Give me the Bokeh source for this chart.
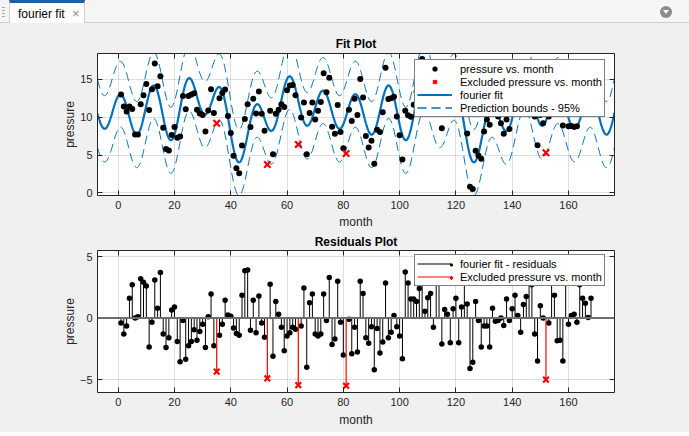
import numpy as np
from bokeh.plotting import figure
from bokeh.models import (Range1d, LinearAxis, FixedTicker, Legend, LegendItem, Span, Div)
from bokeh.layouts import column
from bokeh.embed import file_html
from bokeh.resources import INLINE

# ---------------- data ----------------
months = list(range(1, 169))
pressure = [
    13.0, 11.4, 10.75, 11.4, 11.1, 7.7, 7.7, 11.7, 12.9, 14.4,
    10.95, 13.7, 17.1, 14.1, 15.4, 8.6, 5.8, 5.6, 7.65, 8.7,
    7.3, 7.45, 12.8, 11.05, 12.8, 13.0, 13.15, 11.0, 10.5, 10.3,
    8.1, 10.9, 13.7, 10.55, 9.2, 12.5, 13.2, 13.65, 10.15, 7.9,
    4.9, 3.25, 2.6, 6.25, 9.75, 11.7, 8.7, 12.45, 10.5, 13.4,
    10.45, 8.2, 3.75, 10.85, 5.1, 10.45, 11.0, 11.7, 11.35, 13.55,
    14.2, 14.25, 12.9, 6.4, 9.95, 11.95, 5.1, 10.55, 11.95, 9.7,
    10.85, 12.0, 15.8, 13.3, 15.2, 8.75, 7.8, 11.6, 8.05, 5.9,
    5.2, 11.0, 9.5, 12.45, 10.3, 15.05, 12.6, 7.5, 6.0, 6.9,
    3.85, 8.35, 8.05, 10.65, 16.55, 12.4, 12.5, 12.7, 10.1, 7.6,
    4.4, 10.85, 10.25, 10.05, 11.65, 13.35, 16.1, 17.7, 15.55, 16.15,
    15.45, 11.45, 14.5, 13.65, 8.55, 12.0, 12.6, 11.15, 14.45, 15.4,
    10.95, 11.95, 13.8, 7.85, 0.8, 0.5, 5.55, 4.95, 4.5, 8.1,
    9.7, 9.0, 12.45, 10.95, 10.1, 9.2, 7.8, 9.7, 8.45, 10.65,
    13.45, 13.4, 13.35, 16.3, 16.95, 17.2, 15.7, 10.1, 6.3, 10.3,
    9.2, 5.3, 10.1, 14.55, 14.65, 11.7, 11.9, 8.9, 14.45, 8.8,
    8.85, 8.75, 8.8, 12.1, 12.1, 12.95, 12.85, 14.9,
]
residuals = [
    -0.4, -1.3, -0.65, 1.6, 2.7, 0.0, 0.1, 3.2, 2.9, 2.6,
    -2.35, -0.35, 3.1, 0.8, 3.7, -1.3, -2.4, -1.6, 0.65, 0.9,
    -1.9, -3.55, -0.2, -3.35, -2.25, -1.9, -0.95, -1.8, -1.1, -0.5,
    -2.4, 0.1, 1.95, -2.25, -4.35, -1.4, -0.5, 1.45, 0.25, 0.15,
    -0.8, -1.25, -1.4, 1.85, 3.85, 3.9, -1.0, 1.45, -1.2, 1.8,
    -0.4, -1.55, -4.9, 2.75, -3.1, 1.35, 0.3, -0.75, -2.65, -1.45,
    -1.2, -0.75, -0.9, -5.45, -0.65, 2.45, -4.0, 1.25, 1.95, -1.3,
    -1.45, -1.3, 1.95, -0.2, 3.3, -2.15, -1.7, 3.0, -0.35, -3.0,
    -5.5, -0.1, -2.9, -0.75, -2.75, 3.0, 2.0, -1.6, -2.05, -0.7,
    -4.2, -0.85, -2.85, -1.95, 2.85, -1.6, -1.15, 0.2, -0.7, -1.45,
    -3.3, 3.75, 2.85, 1.55, 1.55, 1.35, 2.4, 3.0, 0.55, 1.65,
    2.0, -0.75, 3.3, 3.0, -2.1, 0.7, 0.3, -2.0, 0.75, 1.6,
    -2.0, 0.9, 5.0, 1.15, -4.1, -3.6, 1.35, -0.2, -2.35, -0.65,
    -0.65, -2.35, 0.8, -0.25, -0.2, 0.0, -0.6, 1.55, -0.2, 0.75,
    1.85, 0.2, -1.15, 1.1, 1.75, 2.8, 2.7, -1.3, -3.5, 1.0,
    0.0, -5.0, -0.4, 2.9, 1.85, -1.85, -1.8, -3.5, 2.8, -0.5,
    0.2, 0.3, -0.35, 2.7, 1.6, 1.2, 0.05, 1.6,
]
excluded_months = [35, 53, 64, 81, 152]
x_ticks = [0, 20, 40, 60, 80, 100, 120, 140, 160]
fit_y_ticks = [0, 5, 10, 15]
res_y_ticks = [-5, 0, 5]
n_terms = 8          # fourier8 model
t_95 = 1.9765        # Student t, 95 %, ~145 dof

# ---------------- fourier fit of the included data ----------------
m_arr = np.array(months, float)
p_arr = np.array(pressure, float)
r_arr = np.array(residuals, float)
exc = np.isin(m_arr, excluded_months)
inc = ~exc


def design(x, w):
    cols = [np.ones_like(x)]
    for k in range(1, n_terms + 1):
        cols += [np.cos(k * w * x), np.sin(k * w * x)]
    return np.column_stack(cols)


xi, yi = m_arr[inc], p_arr[inc]
best = None
for w in np.linspace(0.071, 0.079, 801):
    A = design(xi, w)
    c, *_ = np.linalg.lstsq(A, yi, rcond=None)
    sse = float(np.sum((A @ c - yi) ** 2))
    if best is None or sse < best[0]:
        best = (sse, w, c)
sse, w_best, coef = best


def dfdw(x):
    out = np.zeros_like(x)
    for k in range(1, n_terms + 1):
        a, b = coef[2 * k - 1], coef[2 * k]
        out += k * x * (-a * np.sin(k * w_best * x) + b * np.cos(k * w_best * x))
    return out


J = np.column_stack([design(xi, w_best), dfdw(xi)])
dof = len(xi) - J.shape[1]
s2 = sse / dof
cov = s2 * np.linalg.pinv(J.T @ J)

xf = np.linspace(-7.35, 176.35, 900)
Jf = np.column_stack([design(xf, w_best), dfdw(xf)])
yf = design(xf, w_best) @ coef
half = t_95 * np.sqrt(s2 + np.sum((Jf @ cov) * Jf, axis=1))

# ---------------- styling helpers ----------------
FONT = "Liberation Sans"
TXT = "#262626"
BLUE = "#0072BD"


def mirror_axis(ticks):
    return LinearAxis(ticker=FixedTicker(ticks=ticks),
                      major_label_overrides={t: "" for t in ticks},
                      major_label_standoff=0, major_tick_in=5, major_tick_out=0,
                      minor_tick_line_color=None, axis_line_color=TXT,
                      major_tick_line_color=TXT)


def style_axes(p, yticks, xlabel, ylabel):
    p.xaxis.ticker = FixedTicker(ticks=x_ticks)
    p.yaxis.ticker = FixedTicker(ticks=yticks)
    p.xaxis.axis_label = xlabel
    p.yaxis.axis_label = ylabel
    for ax in p.axis:
        ax.axis_line_color = TXT
        ax.major_tick_line_color = TXT
        ax.major_tick_in = 5
        ax.major_tick_out = 0
        ax.minor_tick_line_color = None
        ax.major_label_text_font = FONT
        ax.major_label_text_font_size = "11px"
        ax.major_label_text_color = TXT
        ax.axis_label_text_font = FONT
        ax.axis_label_text_font_size = "12px"
        ax.axis_label_text_font_style = "normal"
        ax.axis_label_text_color = TXT
        ax.major_label_standoff = 5
        ax.axis_label_standoff = 4
    p.yaxis.axis_label_standoff = 0
    for g in p.grid:
        g.grid_line_color = TXT
        g.grid_line_alpha = 0.15
    p.add_layout(mirror_axis(x_ticks), "above")
    p.add_layout(mirror_axis(yticks), "right")
    p.title.align = "center"
    p.title.text_font = FONT
    p.title.text_font_size = "12px"
    p.title.text_font_style = "bold"
    p.title.text_color = "#000000"


def make_legend(items, loc, **kw):
    opts = dict(padding=2, spacing=0, margin=0,
                label_height=13, glyph_height=13, glyph_width=35, label_standoff=8,
                label_text_font=FONT, label_text_font_size="11px", label_text_color="#000000",
                border_line_color="#000000", border_line_width=1,
                background_fill_color="white", background_fill_alpha=1.0)
    opts.update(kw)
    return Legend(items=items, location=loc, **opts)


# ---------------- fit plot ----------------
p1 = figure(frame_width=517, frame_height=142, x_range=Range1d(-7.35, 176.35),
            y_range=Range1d(-0.35, 18.42), output_backend="svg", toolbar_location=None,
            min_border_left=97, min_border_right=75, min_border_top=30, min_border_bottom=30,
            background_fill_color="white", border_fill_color="#f0f0f0",
            outline_line_color=None, title="Fit Plot")
style_axes(p1, fit_y_ticks, "month", "pressure")
p1.xaxis.axis_label_standoff = 3
p1.title.standoff = 5

r_lo = p1.line(xf, yf - half, line_color=BLUE, line_width=1, line_dash="9 5")
r_hi = p1.line(xf, yf + half, line_color=BLUE, line_width=1, line_dash="9 5")
r_fit = p1.line(xf, yf, line_color=BLUE, line_width=2.2)
r_pts = p1.scatter(m_arr[inc], p_arr[inc], size=6, fill_color="black", line_color=None)
r_exc = p1.scatter(m_arr[exc], p_arr[exc], marker="x", size=9, line_color="red", line_width=2.2)

leg1 = make_legend([
    LegendItem(label="pressure vs. month", renderers=[r_pts]),
    LegendItem(label="Excluded pressure vs. month", renderers=[r_exc]),
    LegendItem(label="fourier fit", renderers=[r_fit]),
    LegendItem(label="Prediction bounds - 95%", renderers=[r_lo, r_hi]),
], (317, 78))
p1.add_layout(leg1)

# ---------------- residuals plot ----------------
p2 = figure(frame_width=517, frame_height=142, x_range=Range1d(-7.35, 176.35),
            y_range=Range1d(-6.05, 5.49), output_backend="svg", toolbar_location=None,
            min_border_left=97, min_border_right=75, min_border_top=12, min_border_bottom=40,
            background_fill_color="white", border_fill_color="#f0f0f0",
            outline_line_color=None, title="Residuals Plot")
style_axes(p2, res_y_ticks, "month", "pressure")
p2.title.standoff = 3

p2.add_layout(Span(location=0, dimension="width", line_color="#6e6e6e", line_width=2))
zeros_inc = np.zeros(inc.sum())
zeros_exc = np.zeros(exc.sum())
s_stem = p2.segment(m_arr[inc], zeros_inc, m_arr[inc], r_arr[inc], line_color="black", line_width=1)
s_dot = p2.scatter(m_arr[inc], r_arr[inc], size=5.5, fill_color="black", line_color=None)
e_stem = p2.segment(m_arr[exc], zeros_exc, m_arr[exc], r_arr[exc], line_color="red", line_width=1.2)
e_dot = p2.scatter(m_arr[exc], r_arr[exc], marker="x", size=8, line_color="red", line_width=2.2)

# legend: stem line samples with labels ...
leg2 = make_legend([
    LegendItem(label="fourier fit - residuals", renderers=[s_stem]),
    LegendItem(label="Excluded pressure vs. month", renderers=[e_stem]),
], (317, 106))
p2.add_layout(leg2)
# ... and the stem markers drawn at the right end of each line sample
leg2m = make_legend([
    LegendItem(label=" ", renderers=[s_dot]),
    LegendItem(label=" ", renderers=[e_dot]),
], (350, 108), padding=0, glyph_width=8, label_standoff=0, label_width=0,
    border_line_color=None, background_fill_alpha=0.0)
p2.add_layout(leg2m)

# ---------------- window header (tab strip) ----------------
header_html = (
    '<div style="position:relative;width:689px;height:23px;background:#f5f5f5;'
    'border-bottom:1px solid #cfcfcf;box-sizing:border-box;'
    "font-family:'Liberation Sans',Arial,sans-serif;\">"
    '<div style="position:absolute;left:2px;top:7px;width:3px;height:10px;'
    'background:repeating-linear-gradient(#a8a8a8 0 1px, transparent 1px 3px);"></div>'
    '<div style="position:absolute;left:9px;top:0;width:76px;height:23px;background:#ffffff;'
    'border-top:3px solid #1f5e9f;border-left:1px solid #cfcfcf;border-right:1px solid #cfcfcf;'
    'box-sizing:border-box;">'
    '<span style="position:absolute;left:8px;top:3px;font-size:12px;color:#000;">fourier fit</span>'
    '<span style="position:absolute;left:62px;top:2px;font-size:13px;color:#8a8a8a;">&#215;</span></div>'
    '<div style="position:absolute;left:660px;top:6px;width:12px;height:12px;border-radius:50%;'
    'background:#8c8c8c;"></div>'
    '<div style="position:absolute;left:663px;top:10px;width:0;height:0;'
    'border-left:3px solid transparent;border-right:3px solid transparent;'
    'border-top:4px solid #ffffff;"></div>'
    '</div>'
)
header = Div(text=header_html, width=689, height=23, margin=(0, 0, 0, 0))

layout = column(header, p1, p2, spacing=0, styles={"background-color": "#f0f0f0"})

open("out.html", "w").write(file_html(layout, INLINE))
